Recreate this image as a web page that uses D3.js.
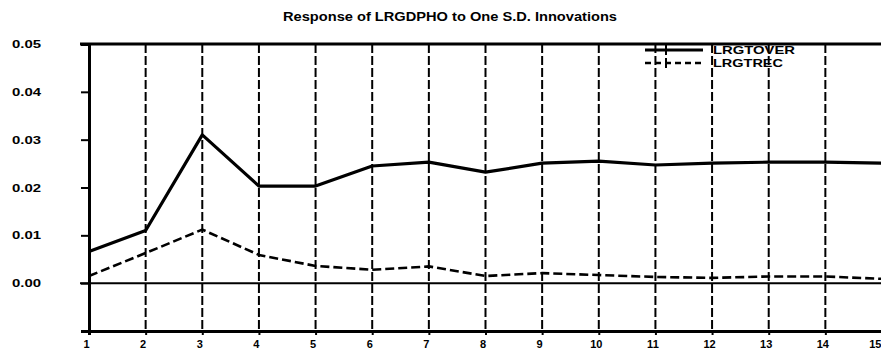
<!DOCTYPE html>
<html>
<head>
<meta charset="utf-8">
<script src="https://cdn.jsdelivr.net/npm/d3@7"></script>
<style>
  body { margin: 0; background: #fff; }
  svg text { font-family: "Liberation Sans", Arial, sans-serif; font-weight: bold; fill: #000; }
</style>
</head>
<body>
<svg id="chart" width="881" height="358"></svg>
<script>
// ─── data ──────────────────────────────────────────────────────────────
const periods   = d3.range(1, 16);
const seriesA   = [0.0066, 0.0110, 0.0310, 0.0203, 0.0203, 0.0245, 0.0253, 0.0232,
                   0.0251, 0.0255, 0.0247, 0.0251, 0.0253, 0.0253, 0.0251];
const seriesB   = [0.0015, 0.0063, 0.0112, 0.0059, 0.0036, 0.0028, 0.0035, 0.0015,
                   0.0021, 0.0017, 0.0013, 0.0011, 0.0014, 0.0014, 0.0009];
const yTicks    = [0.00, 0.01, 0.02, 0.03, 0.04, 0.05];
const legendNames = ["LRGTOVER", "LRGTREC"];
const title = "Response of LRGDPHO to One S.D. Innovations";

// ─── layout ────────────────────────────────────────────────────────────
const svg = d3.select("#chart");
const x = d3.scaleLinear().domain([1, 15]).range([89, 882]);
const y = d3.scaleLinear().domain([-0.01, 0.05]).range([331, 44]);

// vertical dashed grid lines
svg.append("g")
  .selectAll("line")
  .data(periods.slice(1))
  .join("line")
    .attr("x1", d => x(d)).attr("x2", d => x(d))
    .attr("y1", y(0.05)).attr("y2", y(-0.01))
    .attr("stroke", "#000")
    .attr("stroke-width", 2)
    .attr("stroke-dasharray", "9,3");

// top frame & zero line
svg.append("line")
  .attr("x1", 80).attr("x2", 881)
  .attr("y1", y(0.05)).attr("y2", y(0.05))
  .attr("stroke", "#000").attr("stroke-width", 3);
svg.append("line")
  .attr("x1", 80).attr("x2", 881)
  .attr("y1", y(0)).attr("y2", y(0))
  .attr("stroke", "#000").attr("stroke-width", 2);

// y axis
const yAxis = svg.append("g")
  .attr("transform", `translate(${x(1)},0)`)
  .call(d3.axisLeft(y).tickValues(yTicks).tickSize(8).tickFormat(d3.format(".2f")));
yAxis.select(".domain").attr("stroke-width", 3);
yAxis.selectAll(".tick line").attr("stroke-width", 2);
yAxis.selectAll(".tick text")
  .attr("x", -77).attr("text-anchor", "start")
  .attr("font-size", 11)
  .attr("textLength", 29)
  .attr("lengthAdjust", "spacingAndGlyphs");

// x axis
const xAxis = svg.append("g")
  .attr("transform", `translate(0,${y(-0.01)})`)
  .call(d3.axisBottom(x).tickValues(periods).tickSize(4).tickFormat(d3.format("d")));
xAxis.select(".domain").attr("stroke-width", 3);
xAxis.selectAll(".tick line").attr("stroke-width", 2);
xAxis.selectAll(".tick text")
  .attr("y", 9).attr("dx", -3)
  .attr("font-size", 11);
// last label sits at the window edge: keep it inside
xAxis.selectAll(".tick text").filter(d => d === 15)
  .attr("text-anchor", "end").attr("dx", -1);

// series
const line = d3.line().x((d, i) => x(periods[i])).y(d => y(d));
svg.append("path")
  .datum(seriesA)
  .attr("d", line)
  .attr("fill", "none")
  .attr("stroke", "#000")
  .attr("stroke-width", 3.2)
  .attr("stroke-linejoin", "round");
svg.append("path")
  .datum(seriesB)
  .attr("d", line)
  .attr("fill", "none")
  .attr("stroke", "#000")
  .attr("stroke-width", 2.6)
  .attr("stroke-dasharray", "9,4");

// legend
const legend = svg.append("g").attr("transform", "translate(645,50)");
legendNames.forEach((name, i) => {
  const g = legend.append("g").attr("transform", `translate(0,${i * 13})`);
  g.append("line")
    .attr("x1", 0).attr("x2", 58).attr("y1", 0).attr("y2", 0)
    .attr("stroke", "#000")
    .attr("stroke-width", i === 0 ? 3 : 2.6)
    .attr("stroke-dasharray", i === 0 ? null : "6,4");
  g.append("line")
    .attr("x1", 21).attr("x2", 21).attr("y1", -5).attr("y2", 5)
    .attr("stroke", "#000").attr("stroke-width", 2);
  g.append("text")
    .attr("x", 68).attr("y", 4)
    .attr("font-size", 10)
    .attr("textLength", i === 0 ? 82 : 70)
    .attr("lengthAdjust", "spacingAndGlyphs")
    .text(name);
});

// title
svg.append("text")
  .attr("x", 450).attr("y", 21)
  .attr("text-anchor", "middle")
  .attr("font-size", 12)
  .attr("textLength", 334)
  .attr("lengthAdjust", "spacingAndGlyphs")
  .text(title);
</script>
</body>
</html>
